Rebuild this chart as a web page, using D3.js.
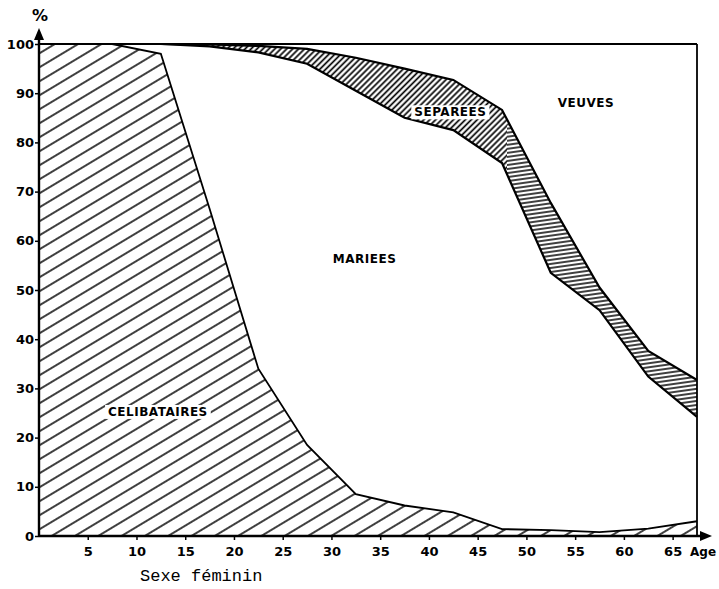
<!DOCTYPE html>
<html><head><meta charset="utf-8">
<script src="https://cdn.jsdelivr.net/npm/d3@7"></script>
<style>body{margin:0;background:#fff}</style>
</head><body>
<svg id="c" width="719" height="589"></svg>
<script>
// Ages (mid-points of 5-year groups) and shares (%) of each marital status
const ages         = [0,   7.5, 12.5, 17.5, 22.5, 27.5, 32.5, 37.5, 42.5, 47.5, 52.5, 57.5, 62.5, 67.5];
const celibataires = [100, 100, 98,   66.5, 34,   18.5, 8.5,  6.2,  4.8,  1.4,  1.2,  0.8,  1.5,  3.0];
const mariees      = [0,   0,   2,    33,   64.3, 77.5, 82,   78.8, 77.7, 74.4, 52.3, 45.1, 30.9, 21.2];
const separees     = [0,   0,   0,    0.4,  1.3,  3,    6.7,  10,   10.2, 10.8, 14.2, 4.6,  5.2,  7.5];
const veuves       = [0,   0,   0,    0.1,  0.4,  1,    2.8,  5,    7.3,  13.4, 32.3, 49.5, 62.4, 68.3];
const xTicks = [5, 10, 15, 20, 25, 30, 35, 40, 45, 50, 55, 60, 65];
const yTicks = [0, 10, 20, 30, 40, 50, 60, 70, 80, 90, 100];
const keys   = ["celibataires", "mariees", "separees", "veuves"];
const labels = ["CELIBATAIRES", "MARIEES", "SEPAREES", "VEUVES"];
const xTitle = "Age", yTitle = "%", caption = "Sexe féminin";

const svg = d3.select("#c");
const x = d3.scaleLinear().domain([0, 67.5]).range([39, 697]);
const y = d3.scaleLinear().domain([0, 100]).range([536, 44]);

const rows = ages.map((a, i) => ({age: a, celibataires: celibataires[i], mariees: mariees[i], separees: separees[i], veuves: veuves[i]}));
const series = d3.stack().keys(keys)(rows);

const defs = svg.append("defs");
function hatch(id, spacing, angle, width) {
  const p = defs.append("pattern").attr("id", id).attr("patternUnits", "userSpaceOnUse")
    .attr("width", 40).attr("height", spacing).attr("patternTransform", `rotate(${angle})`);
  p.append("line").attr("x1", -1).attr("x2", 41).attr("y1", spacing / 2).attr("y2", spacing / 2)
    .attr("stroke", "#000").attr("stroke-width", width);
}
hatch("hCel", 12, -31, 1.4);
hatch("hSepA", 4.2, -45, 1.6);
hatch("hSepB", 4.0, -8, 1.6);
defs.append("clipPath").attr("id", "clipA").append("rect")
  .attr("x", 0).attr("y", 0).attr("width", x(48)).attr("height", 589);
defs.append("clipPath").attr("id", "clipB").append("rect")
  .attr("x", x(48)).attr("y", 0).attr("width", 719).attr("height", 589);

const area = d3.area().x(d => x(d.data.age)).y0(d => y(d[0])).y1(d => y(d[1]));
const topLine = d3.line().x(d => x(d.data.age)).y(d => y(d[1]));

svg.append("path").attr("d", area(series[0])).attr("fill", "url(#hCel)");
svg.append("path").attr("d", area(series[2])).attr("fill", "url(#hSepA)").attr("clip-path", "url(#clipA)");
svg.append("path").attr("d", area(series[2])).attr("fill", "url(#hSepB)").attr("clip-path", "url(#clipB)");

svg.append("path").attr("d", topLine(series[0])).attr("fill", "none").attr("stroke", "#000").attr("stroke-width", 1.8);
svg.append("path").attr("d", topLine(series[1])).attr("fill", "none").attr("stroke", "#000").attr("stroke-width", 2.2);
svg.append("path").attr("d", topLine(series[2])).attr("fill", "none").attr("stroke", "#000").attr("stroke-width", 2.2);

// frame
svg.append("line").attr("x1", x(0)).attr("x2", x(67.5)).attr("y1", y(100)).attr("y2", y(100)).attr("stroke", "#000").attr("stroke-width", 1.8);
svg.append("line").attr("x1", x(67.5)).attr("x2", x(67.5)).attr("y1", y(100)).attr("y2", y(0)).attr("stroke", "#000").attr("stroke-width", 1.8);
svg.append("line").attr("x1", x(0)).attr("x2", 706).attr("y1", y(0)).attr("y2", y(0)).attr("stroke", "#000").attr("stroke-width", 2.4);
svg.append("line").attr("x1", x(0)).attr("x2", x(0)).attr("y1", y(0)).attr("y2", 34).attr("stroke", "#000").attr("stroke-width", 2.4);
svg.append("path").attr("d", `M${x(0)},28 L${x(0) - 5},40 L${x(0) + 5},40 Z`).attr("fill", "#000");
svg.append("path").attr("d", `M712,${y(0)} L700,${y(0) - 5} L700,${y(0) + 5} Z`).attr("fill", "#000");

const tickFont = "'DejaVu Sans', sans-serif";
const yAxis = svg.append("g").attr("transform", `translate(${x(0)},0)`)
  .call(d3.axisLeft(y).tickValues(yTicks).tickSize(4).tickPadding(1));
const xAxis = svg.append("g").attr("transform", `translate(0,${y(0)})`)
  .call(d3.axisBottom(x).tickValues(xTicks).tickSize(4).tickPadding(7));
[xAxis, yAxis].forEach(g => {
  g.select(".domain").remove();
  g.selectAll("line").attr("stroke", "#000").attr("stroke-width", 1.5);
  g.selectAll("text").attr("font-family", tickFont).attr("font-weight", "bold")
    .attr("font-size", 13).attr("fill", "#000");
});

svg.append("text").attr("x", 690).attr("y", 556).attr("font-family", tickFont).attr("font-weight", "bold")
  .attr("font-size", 12).text(xTitle);
svg.append("text").attr("x", x(0) + 1).attr("y", 21).attr("text-anchor", "middle").attr("font-family", tickFont)
  .attr("font-weight", "bold").attr("font-size", 16).text(yTitle);
svg.append("text").attr("x", 140).attr("y", 581).attr("font-family", "'Liberation Mono', monospace")
  .attr("font-size", 17).text(caption);

// category labels
const labelPos = [
  {age: 12.2, pct: 24.4, box: true},
  {age: 33.4, pct: 55.5, box: false},
  {age: 42.2, pct: 85.3, box: true},
  {age: 56.1, pct: 87.2, box: false}
];
labelPos.forEach((p, i) => {
  const g = svg.append("g");
  const t = g.append("text").attr("x", x(p.age)).attr("y", y(p.pct)).attr("text-anchor", "middle")
    .attr("font-family", tickFont).attr("font-weight", "bold").attr("font-size", 12)
    .attr("letter-spacing", 0.5).text(labels[i]);
  if (p.box) {
    const b = t.node().getBBox();
    g.insert("rect", "text").attr("x", b.x - 3).attr("y", b.y).attr("width", b.width + 6)
      .attr("height", b.height).attr("fill", "#fff");
  }
});
</script>
</body></html>
